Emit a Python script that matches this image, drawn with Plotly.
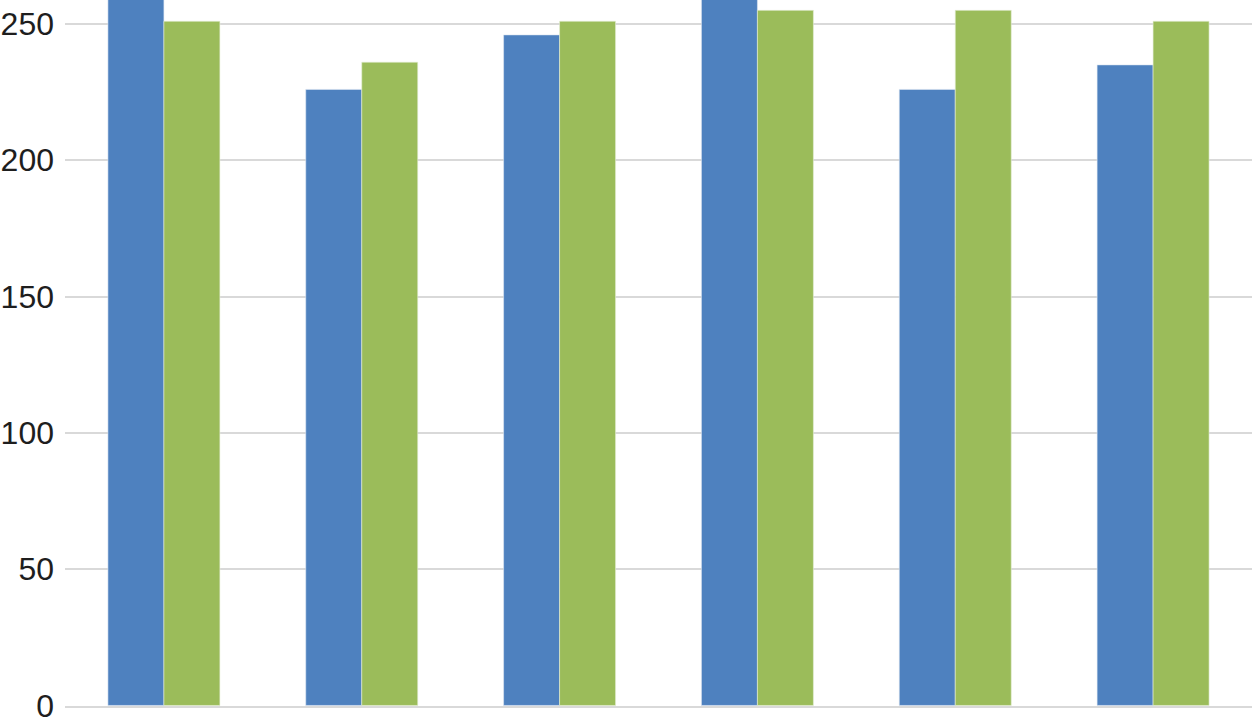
import plotly.graph_objects as go

categories = ["1", "2", "3", "4", "5", "6"]
series_a = [268, 226, 246, 266, 226, 235]
series_b = [251, 236, 251, 255, 255, 251]
tick_values = [0, 50, 100, 150, 200, 250]
tick_labels = ["0", "50", "100", "150", "200", "250"]

fig = go.Figure()
fig.add_trace(go.Bar(x=categories, y=series_a, name="Series A",
                     marker=dict(color="#4E81BF", line=dict(color="#dfe7f2", width=0.6))))
fig.add_trace(go.Bar(x=categories, y=series_b, name="Series B",
                     marker=dict(color="#9BBC5A", line=dict(color="#e6eed8", width=0.6))))

fig.update_layout(
    width=1252, height=724,
    margin=dict(l=65, r=0, t=0, b=12),
    paper_bgcolor="white", plot_bgcolor="white",
    barmode="group", bargap=0.434, bargroupgap=0,
    showlegend=False,
    font=dict(family="Liberation Sans, Arial, sans-serif", size=32, color="#1e1e1e"),
)
fig.update_xaxes(showticklabels=False, showgrid=False, zeroline=False,
                 showline=True, linecolor="#d9d9d9", linewidth=2, ticks="")
fig.update_yaxes(range=[-0.2, 258.8], tickvals=tick_values, ticktext=tick_labels,
                 showgrid=True, gridcolor="#d9d9d9", gridwidth=2,
                 zeroline=False, showline=False, ticks="", ticklabelstandoff=10,
                 ticklabeloverflow="allow")

fig.write_html("out.html", config={"displayModeBar": False},
               post_script="document.body.style.margin='0';document.body.style.overflow='hidden';")
